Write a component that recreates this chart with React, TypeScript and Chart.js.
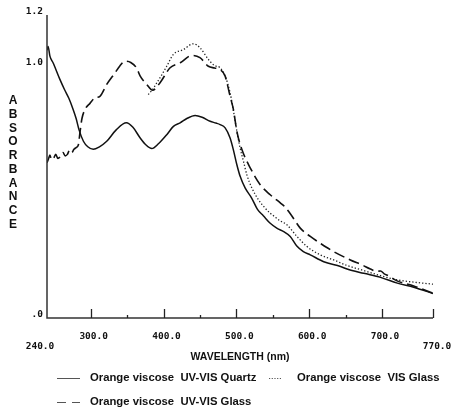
import React, { useEffect, useRef } from "react";
import { Chart, registerables } from "chart.js";

Chart.register(...registerables);

// Orange viscose, UV-VIS Quartz (solid)
const quartzNm = [240, 241.5, 244, 248.5, 257.7, 264, 270, 276, 280, 284, 290, 296, 303.5, 312, 322, 335, 349, 358, 367.7, 376, 384, 393, 404.5, 413.6, 422.8, 432, 443.4, 453, 464, 472, 477.7, 484.6, 491.4, 496, 500.7, 505.2, 512, 521, 529, 537, 546.5, 556, 565, 574, 583, 592, 601.5, 620, 643, 652, 675, 698, 721, 743.5, 770];
const quartzAbs = [1.06, 1.075, 1.037, 1.01, 0.945, 0.905, 0.87, 0.825, 0.79, 0.745, 0.7, 0.678, 0.668, 0.678, 0.7, 0.745, 0.773, 0.755, 0.714, 0.685, 0.671, 0.69, 0.726, 0.759, 0.773, 0.79, 0.802, 0.795, 0.779, 0.772, 0.766, 0.753, 0.713, 0.665, 0.607, 0.561, 0.515, 0.475, 0.43, 0.405, 0.375, 0.355, 0.342, 0.323, 0.285, 0.263, 0.25, 0.223, 0.204, 0.194, 0.177, 0.161, 0.138, 0.122, 0.097];

// Orange viscose, UV-VIS Glass (dashed)
const uvGlassNm = [240, 242, 244, 246, 249, 252, 255, 258, 262, 265, 268, 271, 274, 277, 280, 283, 285.5, 288, 292, 299, 306, 312.7, 322, 333.4, 340, 347, 355, 363, 368, 377, 385, 395, 409, 423, 439, 450, 461.6, 470, 477.7, 484.6, 491.4, 496, 500.7, 507.6, 519, 532.7, 546.5, 560.3, 566, 576, 587.7, 601.5, 615.2, 633.5, 656.5, 672.6, 684, 693, 698, 703, 709, 720.7, 743.5, 770];
const uvGlassAbs = [0.615, 0.63, 0.645, 0.628, 0.632, 0.648, 0.632, 0.638, 0.655, 0.642, 0.648, 0.665, 0.655, 0.668, 0.675, 0.685, 0.74, 0.79, 0.825, 0.85, 0.872, 0.878, 0.925, 0.971, 0.998, 1.017, 1.012, 0.99, 0.958, 0.925, 0.902, 0.931, 0.991, 1.011, 1.04, 1.031, 0.997, 0.99, 0.984, 0.958, 0.878, 0.825, 0.739, 0.667, 0.595, 0.528, 0.488, 0.456, 0.442, 0.405, 0.356, 0.323, 0.296, 0.263, 0.23, 0.21, 0.194, 0.185, 0.186, 0.175, 0.167, 0.147, 0.127, 0.098];

// Orange viscose, VIS Glass (dotted)
const visGlassNm = [379, 385, 390.7, 397, 404.4, 413.5, 427.3, 441, 450.2, 461.6, 470, 477.7, 484.6, 491.4, 496, 500.7, 505.2, 509.8, 514.4, 521.3, 530.4, 539.6, 546.5, 551, 560, 569.4, 583.2, 597, 615.2, 633.5, 652, 674.8, 697.7, 720.7, 743.5, 770];
const visGlassAbs = [0.885, 0.905, 0.931, 0.96, 0.997, 1.044, 1.063, 1.086, 1.07, 1.024, 1.0, 0.991, 0.958, 0.892, 0.82, 0.74, 0.673, 0.62, 0.567, 0.515, 0.468, 0.435, 0.415, 0.405, 0.385, 0.369, 0.323, 0.283, 0.25, 0.23, 0.208, 0.188, 0.168, 0.151, 0.142, 0.134];

// Axis ticks and labels
const xMajorTicks = [300, 400, 500, 600, 700, 770];
const xMinorTicks = [350, 450, 550, 650];
const xTickLabels = ["300.0", "400.0", "500.0", "600.0", "700.0"];
const xEndLabels = ["240.0", "770.0"];
const yTickValues = [1.2, 1.0, 0];
const yTickLabels = ["1.2", "1.0", ".0"];
const xTitle = "WAVELENGTH (nm)";
const yTitle = "ABSORBANCE";
const seriesNames = [
  "Orange viscose  UV-VIS Quartz",
  "Orange viscose  UV-VIS Glass",
  "Orange viscose  VIS Glass",
];

const toPoints = (xs: number[], ys: number[]) => xs.map((x, i) => ({ x, y: ys[i] }));

const MONO = "bold 9.5px 'DejaVu Sans Mono', monospace";
const SANS = "bold 11.3px 'Liberation Sans', Arial, sans-serif";
const TITLE = "bold 10.5px 'Liberation Sans', Arial, sans-serif";
const LETTER = "bold 12px 'Liberation Sans', Arial, sans-serif";

const frame = {
  id: "spectroFrame",
  afterDraw(chart: any) {
    const { ctx, chartArea } = chart;
    const x = chart.scales.x;
    const y = chart.scales.y;
    const x0 = x.getPixelForValue(240);
    const x1 = x.getPixelForValue(770);
    const yTop = y.getPixelForValue(1.2);
    const yBase = y.getPixelForValue(0);
    ctx.save();

    // axis lines
    ctx.strokeStyle = "#333";
    ctx.lineWidth = 1.5;
    ctx.beginPath();
    ctx.moveTo(x0, yTop);
    ctx.lineTo(x0, yBase);
    ctx.lineTo(x1, yBase);
    ctx.stroke();

    // inward ticks on the wavelength axis
    ctx.lineWidth = 1.3;
    ctx.strokeStyle = "#222";
    xMajorTicks.forEach((v) => {
      const px = Math.round(x.getPixelForValue(v)) + 0.5;
      ctx.beginPath();
      ctx.moveTo(px, yBase);
      ctx.lineTo(px, yBase - 9);
      ctx.stroke();
    });
    xMinorTicks.forEach((v) => {
      const px = Math.round(x.getPixelForValue(v)) + 0.5;
      ctx.beginPath();
      ctx.moveTo(px, yBase);
      ctx.lineTo(px, yBase - 3);
      ctx.stroke();
    });

    // tick labels
    ctx.fillStyle = "#111";
    ctx.font = MONO;
    ctx.textBaseline = "middle";
    ctx.textAlign = "center";
    xTickLabels.forEach((t, i) => {
      ctx.fillText(t, x.getPixelForValue(xMajorTicks[i]) + 3, yBase + 19);
    });
    ctx.fillText(xEndLabels[0], x0 - 7, yBase + 29);
    ctx.fillText(xEndLabels[1], x1 + 4, yBase + 29);
    ctx.textAlign = "right";
    yTickLabels.forEach((t, i) => {
      ctx.fillText(t, x0 - 4, y.getPixelForValue(yTickValues[i]) - 3);
    });

    // axis titles
    ctx.font = TITLE;
    ctx.textAlign = "center";
    ctx.fillText(xTitle, (chartArea.left + chartArea.right) / 2, yBase + 39);
    ctx.font = LETTER;
    yTitle.split("").forEach((ch, i) => {
      ctx.fillText(ch, 13, 101 + i * 13.7);
    });

    // legend
    ctx.font = SANS;
    const rows = [
      { lx: 57, ly: 378, len: 23, dash: [] as number[], name: seriesNames[0], tx: 90 },
      { lx: 57, ly: 402, len: 23, dash: [9, 6], name: seriesNames[1], tx: 90 },
      { lx: 269, ly: 378, len: 13, dash: [1.2, 1.5], name: seriesNames[2], tx: 297 },
    ];
    rows.forEach((r) => {
      ctx.strokeStyle = "#555";
      ctx.lineWidth = 1;
      ctx.setLineDash(r.dash);
      ctx.beginPath();
      ctx.moveTo(r.lx, r.ly + 0.5);
      ctx.lineTo(r.lx + r.len, r.ly + 0.5);
      ctx.stroke();
      ctx.setLineDash([]);
      ctx.textAlign = "left";
      ctx.fillStyle = "#111";
      ctx.fillText(r.name, r.tx, r.ly);
    });
    ctx.restore();
  },
};

export default function App() {
  const ref = useRef<HTMLCanvasElement | null>(null);

  useEffect(() => {
    if (!ref.current) return;
    const chart = new Chart(ref.current, {
      type: "line",
      data: {
        datasets: [
          {
            label: seriesNames[0],
            data: toPoints(quartzNm, quartzAbs),
            borderColor: "#111",
            borderWidth: 1.5,
          },
          {
            label: seriesNames[1],
            data: toPoints(uvGlassNm, uvGlassAbs),
            borderColor: "#111",
            borderWidth: 1.6,
            borderDash: [11, 5],
          },
          {
            label: seriesNames[2],
            data: toPoints(visGlassNm, visGlassAbs),
            borderColor: "#222",
            borderWidth: 1.3,
            borderDash: [1.3, 2],
          },
        ],
      },
      options: {
        animation: false,
        responsive: false,
        devicePixelRatio: 1,
        events: [],
        layout: { padding: { left: 47, right: 18, top: 15, bottom: 93 } },
        elements: {
          point: { radius: 0 },
          line: { cubicInterpolationMode: "monotone", fill: false },
        },
        plugins: { legend: { display: false }, tooltip: { enabled: false } },
        scales: {
          x: { type: "linear", min: 240, max: 770, display: false },
          y: { type: "linear", min: 0, max: 1.2, display: false },
        },
      },
      plugins: [frame],
    });
    return () => chart.destroy();
  }, []);

  return (
    <div style={{ position: "fixed", left: 0, top: 0, width: 451, height: 411, background: "#fff" }}>
      <canvas ref={ref} width={451} height={411} />
    </div>
  );
}
